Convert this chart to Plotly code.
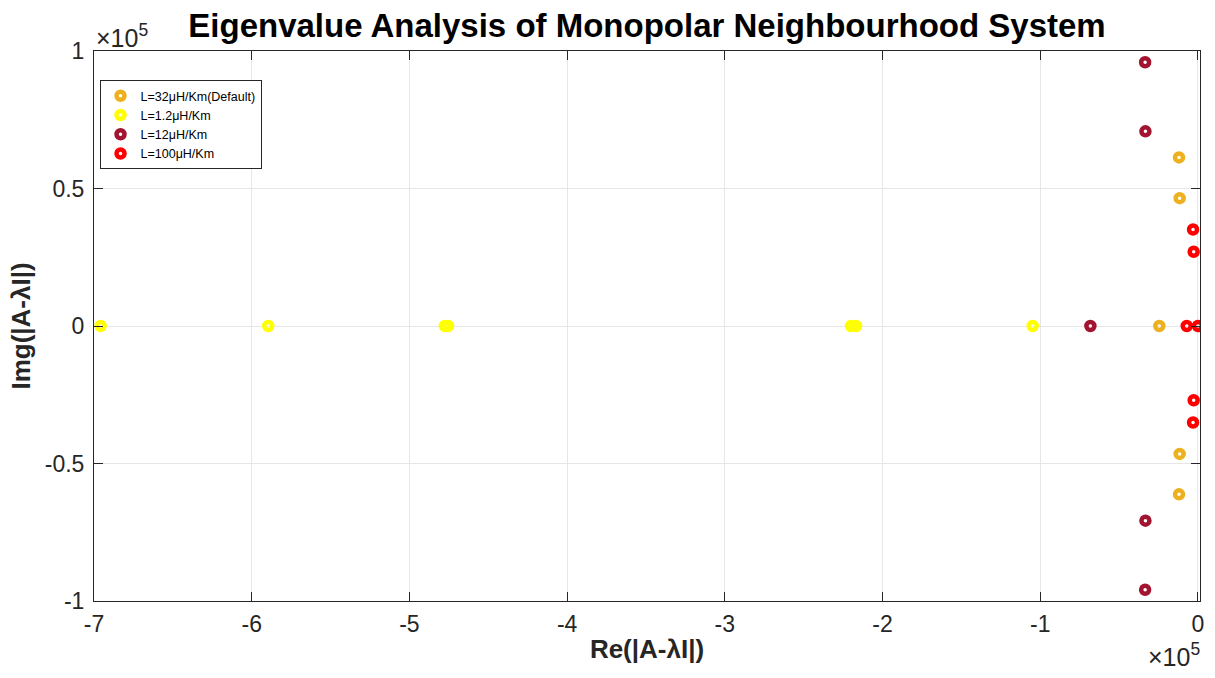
import plotly.graph_objects as go

default_re = [-0.120e5, -0.116e5, -0.245e5, -0.116e5, -0.120e5]
default_im = [0.613e5, 0.465e5, 0.0, -0.465e5, -0.612e5]

l1p2_re = [-6.958e5, -5.895e5, -4.775e5, -4.755e5, -2.200e5, -2.168e5, -1.048e5]
l1p2_im = [0, 0, 0, 0, 0, 0, 0]

l12_re = [-0.335e5, -0.333e5, -0.682e5, -0.333e5, -0.335e5]
l12_im = [0.959e5, 0.708e5, 0.0, -0.708e5, -0.959e5]

l100_re = [-0.031e5, -0.027e5, -0.071e5, 0.0, -0.027e5, -0.031e5]
l100_im = [0.351e5, 0.270e5, 0.0, 0.0, -0.270e5, -0.351e5]

series = [
    ("L=32μH/Km(Default)", default_re, default_im, "#EDB120"),
    ("L=1.2μH/Km", l1p2_re, l1p2_im, "#FFFF00"),
    ("L=12μH/Km", l12_re, l12_im, "#A2142F"),
    ("L=100μH/Km", l100_re, l100_im, "#FF0000"),
]

x_ticks = [-7e5, -6e5, -5e5, -4e5, -3e5, -2e5, -1e5, 0]
x_tick_text = ["-7", "-6", "-5", "-4", "-3", "-2", "-1", "0"]
y_ticks = [-1e5, -0.5e5, 0, 0.5e5, 1e5]
y_tick_text = ["-1", "-0.5", "0", "0.5", "1"]

FONT = "Liberation Sans, Arial, Helvetica, sans-serif"
TXT = "#262626"

fig = go.Figure()
for name, xs, ys, col in series:
    fig.add_trace(go.Scatter(
        x=xs, y=ys, mode="markers", name=name,
        marker=dict(symbol="circle-open", size=8, color=col,
                    line=dict(color=col, width=4.5)),
    ))

axis_common = dict(
    showgrid=True, gridcolor="#E6E6E6", gridwidth=1,
    zeroline=False, showline=True, linecolor=TXT, linewidth=1,
    mirror="ticks", ticks="inside", ticklen=9, tickcolor=TXT,
    tickfont=dict(family=FONT, size=23, color=TXT),
)

fig.update_layout(
    width=1215, height=678,
    margin=dict(l=94, r=15, t=51, b=77),
    paper_bgcolor="white", plot_bgcolor="white",
    title=dict(text="<b>Eigenvalue Analysis of Monopolar Neighbourhood System</b>",
               x=(94 + 1200) / 2 / 1215, xanchor="center", y=1 - 25 / 678, yanchor="middle",
               font=dict(family=FONT, size=33, color="black")),
    xaxis=dict(range=[-7.0e5, 0.013e5], tickvals=x_ticks, ticktext=x_tick_text,
               ticklabelstandoff=2,
               title=dict(text="<b>Re(|A-λI|)</b>", font=dict(family=FONT, size=26, color=TXT),
                          standoff=4),
               **axis_common),
    yaxis=dict(range=[-1e5, 1e5], tickvals=y_ticks, ticktext=y_tick_text,
               ticklabelstandoff=4,
               title=dict(text="<b>Img(|A-λI|)</b>", font=dict(family=FONT, size=26, color=TXT),
                          standoff=6),
               **axis_common),
    legend=dict(x=0.005, y=0.947, xanchor="left", yanchor="top",
                bgcolor="white", bordercolor=TXT, borderwidth=1,
                font=dict(family=FONT, size=12.5, color="black"),
                tracegroupgap=0, itemsizing="trace"),
    showlegend=True,
)

fig.add_annotation(text="×10<sup>5</sup>", xref="paper", yref="paper",
                   x=0, y=1, xanchor="left", yanchor="bottom", yshift=-3, showarrow=False,
                   font=dict(family=FONT, size=25, color=TXT))
fig.add_annotation(text="×10<sup>5</sup>", xref="paper", yref="paper",
                   x=1, y=0, xanchor="right", yanchor="top", yshift=-36, xshift=2,
                   showarrow=False, font=dict(family=FONT, size=25, color=TXT))

fig.write_html("out.html")
